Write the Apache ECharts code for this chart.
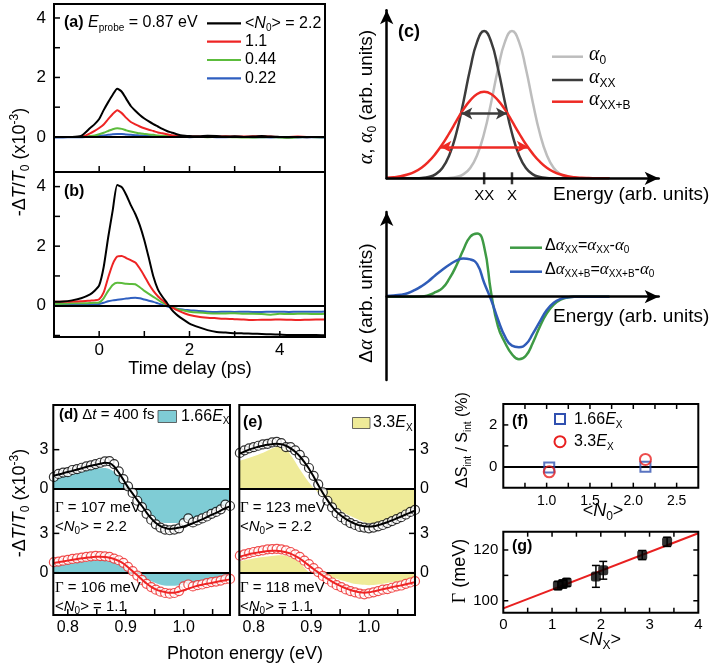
<!DOCTYPE html>
<html><head><meta charset="utf-8">
<script src="https://cdn.jsdelivr.net/npm/echarts@6/dist/echarts.min.js"></script>
<style>html,body{margin:0;padding:0;background:#fff}#c{width:716px;height:671px}</style>
</head><body><div id="c"></div>
<script>
// ---------- Panels (a),(b): time traces ----------
const timeDelay = [-1,-0.8,-0.6,-0.4,-0.2,-0.1,0,0.1,0.2,0.3,0.4,0.5,0.6,0.7,0.8,0.9,1.0,1.1,1.2,1.3,1.4,1.5,1.6,1.7,1.8,1.9,2.0,2.2,2.4,2.6,2.8,3.0,3.2,3.4,3.6,3.8,4.0,4.2,4.4,4.6,4.8,5.0];
const aN22  = [0,0,0,0.03,0.3,0.43,0.6,0.9,1.17,1.42,1.62,1.52,1.28,1.04,0.88,0.74,0.62,0.52,0.43,0.35,0.27,0.2,0.15,0.1,0.06,0.04,0.03,0.02,0.04,0.03,0.01,0.02,0,0.01,0.03,0.01,0,-0.01,0,-0.01,0,0];
const aN11  = [0,0,0,0,0.12,0.2,0.3,0.42,0.6,0.77,0.9,0.8,0.64,0.5,0.42,0.35,0.29,0.24,0.2,0.15,0.12,0.09,0.06,0.04,0.03,0.02,0.01,0.01,0,0.01,0.02,0.01,0.01,0.02,0.02,0.01,0,0,0.01,0,0,0];
const aN044 = [0,0,0,0,0.03,0.05,0.09,0.14,0.2,0.26,0.29,0.27,0.22,0.18,0.15,0.12,0.1,0.08,0.07,0.05,0.04,0.03,0.02,0.01,0.01,0,0,0,-0.01,0,0,-0.01,-0.02,-0.02,-0.01,0,-0.02,-0.03,-0.01,0,-0.01,0];
const aN022 = [-0.02,-0.02,-0.01,-0.01,0.01,0.02,0.03,0.05,0.07,0.09,0.1,0.1,0.08,0.07,0.06,0.05,0.04,0.03,0.02,0.02,0.01,0.01,0,0,0,0,-0.01,0,0,-0.01,-0.01,0,0,-0.01,-0.01,-0.02,-0.01,-0.01,-0.02,-0.01,-0.01,-0.02];
const bN22  = [0.13,0.14,0.18,0.25,0.38,0.5,0.68,1.3,2.3,3.2,4.05,3.98,3.72,3.38,3.08,2.7,2.2,1.6,0.98,0.55,0.3,0.1,-0.12,-0.28,-0.4,-0.5,-0.6,-0.72,-0.82,-0.88,-0.9,-0.92,-0.93,-0.94,-0.95,-0.96,-0.97,-0.98,-0.98,-0.98,-0.98,-0.99];
const bN11  = [0.13,0.13,0.14,0.15,0.17,0.18,0.22,0.45,0.95,1.4,1.65,1.67,1.6,1.53,1.45,1.25,1.0,0.73,0.5,0.32,0.18,0.05,-0.05,-0.13,-0.2,-0.26,-0.31,-0.37,-0.4,-0.42,-0.44,-0.45,-0.46,-0.48,-0.47,-0.47,-0.46,-0.47,-0.48,-0.47,-0.46,-0.46];
const bN044 = [0.07,0.07,0.08,0.08,0.09,0.1,0.11,0.25,0.5,0.7,0.77,0.76,0.74,0.73,0.72,0.62,0.5,0.4,0.3,0.2,0.1,0.03,-0.04,-0.1,-0.14,-0.17,-0.2,-0.23,-0.25,-0.26,-0.26,-0.25,-0.27,-0.27,-0.28,-0.3,-0.27,-0.28,-0.27,-0.27,-0.28,-0.27];
const bN022 = [0.07,0.06,0.05,0.05,0.05,0.05,0.06,0.1,0.15,0.18,0.2,0.22,0.24,0.26,0.27,0.25,0.21,0.17,0.13,0.08,0.03,-0.02,-0.06,-0.09,-0.12,-0.14,-0.15,-0.18,-0.2,-0.21,-0.2,-0.21,-0.2,-0.21,-0.21,-0.2,-0.2,-0.21,-0.2,-0.2,-0.2,-0.19];
const legendA = ['2.2','1.1','0.44','0.22'];
const tickTime = [0,1,2,3,4];
const tickA = [0,1,2,3,4];
const tickB = [-1,0,1,2,3,4];

// ---------- Panel (c): schematic ----------
const cEnergy  = [0,2.5,5,7.5,10,12.5,15,17.5,20,22.5,25,27.5,30,32.5,35,37.5,40,42.5,45,47.5,50,52.5,55,57.5,60,62.5,65,67.5,70,72.5,75,77.5,80];
const alpha0   = [0,0,0,0,0,0,0,0,0.05,0.2,0.74,2.25,5.9,13.3,25.8,43.3,62.7,78.3,84.3,78.3,62.7,43.3,25.8,13.3,5.9,2.25,0.74,0.2,0.05,0,0,0,0];
const alphaXX  = [0,0,0,0,0.05,0.2,0.74,2.25,5.9,13.3,25.8,43.3,62.7,78.3,84.3,78.3,62.7,43.3,25.8,13.3,5.9,2.25,0.74,0.2,0.05,0,0,0,0,0,0,0,0];
const alphaXXB = [0.3,0.6,1.2,2.2,3.7,6.1,9.5,14.0,19.5,25.9,32.7,39.3,44.6,48.3,49.5,48.3,44.6,39.3,32.7,25.9,19.5,14.0,9.5,6.1,3.7,2.2,1.2,0.6,0.3,0.15,0.07,0,0];
const dAlphaXX  = [0,0,0,0,0,0.1,1.5,4.5,8.5,18,31,46.7,60,63.2,50,4,-30,-46,-57.5,-62.5,-59,-46,-30,-16.7,-8,-3,-0.8,-0.1,0,0,0,0,0];
const dAlphaXXB = [0.7,1.2,2,3.5,6.5,10.5,15.5,21.5,27,32,36,38.2,37.3,32.5,14,-3,-23,-40,-49,-50.5,-47.5,-37,-25,-13.3,-6,-2.2,-0.6,0,0,0,0,0,0];
const cTickPos = [35,45];
const cTickLab = ['XX','X'];
const arrowXX  = [26.8, 43.2, 37.1];   // x from, x to, height
const arrowXXB = [19.3, 50.7, 18.0];

// ---------- Panels (d),(e): spectra ----------
const ePhoton = [0.776,0.784,0.792,0.800,0.808,0.816,0.824,0.832,0.840,0.848,0.856,0.864,0.872,0.880,0.888,0.896,0.904,0.912,0.920,0.928,0.936,0.944,0.952,0.960,0.968,0.976,0.984,0.992,1.000,1.008,1.016,1.024,1.032,1.040,1.048,1.056,1.064,1.072,1.080];
const dFitUp  = [1.02,1.1,1.2,1.3,1.38,1.48,1.58,1.68,1.77,1.85,1.93,2.0,1.97,1.72,1.25,0.7,0.12,-0.35,-0.85,-1.3,-1.8,-2.25,-2.6,-2.83,-2.97,-3.05,-3.02,-2.95,-2.87,-2.75,-2.62,-2.47,-2.32,-2.15,-1.98,-1.82,-1.65,-1.47,-1.33];
const dDatUp  = [0.92,1.15,1.25,1.28,1.45,1.52,1.62,1.72,1.8,1.9,2.0,2.1,2.12,1.9,1.35,0.75,0.2,-0.3,-0.9,-1.38,-1.9,-2.35,-2.7,-2.95,-3.1,-3.15,-3.1,-3.0,-2.6,-2.25,-2.55,-2.4,-2.25,-2.1,-1.9,-1.75,-1.55,-1.2,-1.3];
const dFitLo  = [0.74,0.8,0.86,0.92,0.98,1.04,1.1,1.14,1.18,1.21,1.22,1.2,1.14,1.04,0.9,0.7,0.42,0.1,-0.2,-0.52,-0.83,-1.08,-1.27,-1.4,-1.48,-1.53,-1.53,-1.45,-1.34,-1.22,-1.1,-1.0,-0.92,-0.85,-0.78,-0.71,-0.64,-0.57,-0.51];
const dDatLo  = [0.8,0.85,0.92,0.98,1.05,1.1,1.15,1.2,1.25,1.28,1.27,1.25,1.2,1.08,0.95,0.75,0.45,0.12,-0.22,-0.55,-0.85,-1.1,-1.3,-1.45,-1.55,-1.6,-1.55,-1.4,-1.05,-0.9,-1.05,-0.95,-0.9,-0.8,-0.72,-0.68,-0.6,-0.5,-0.48];
const eFitUp  = [2.7,2.85,3.0,3.12,3.22,3.3,3.37,3.42,3.45,3.42,3.3,3.1,2.85,2.5,2.05,1.55,0.95,0.3,-0.3,-0.85,-1.35,-1.75,-2.05,-2.3,-2.5,-2.66,-2.78,-2.85,-2.87,-2.84,-2.76,-2.66,-2.54,-2.4,-2.25,-2.1,-1.95,-1.8,-1.66];
const eDatUp  = [2.75,2.95,3.1,3.2,3.3,3.4,3.45,3.55,3.6,3.5,3.2,3.2,2.95,2.6,2.15,1.6,1.0,0.35,-0.25,-0.9,-1.4,-1.85,-2.15,-2.4,-2.6,-2.75,-2.9,-2.95,-3.0,-2.95,-2.85,-2.75,-2.6,-2.45,-2.3,-2.15,-1.95,-1.75,-1.6];
const eFitLo  = [1.22,1.32,1.41,1.48,1.55,1.6,1.65,1.68,1.68,1.64,1.56,1.45,1.28,1.08,0.82,0.55,0.28,0.02,-0.22,-0.46,-0.68,-0.88,-1.05,-1.2,-1.32,-1.42,-1.5,-1.53,-1.5,-1.43,-1.35,-1.27,-1.19,-1.11,-1.04,-0.97,-0.88,-0.8,-0.72];
const eDatLo  = [1.3,1.4,1.5,1.58,1.65,1.7,1.78,1.8,1.82,1.78,1.7,1.58,1.4,1.2,0.92,0.65,0.35,0.05,-0.25,-0.5,-0.75,-0.95,-1.1,-1.28,-1.4,-1.5,-1.6,-1.65,-1.58,-1.5,-1.4,-1.3,-1.25,-1.15,-1.05,-0.98,-0.85,-0.75,-0.65];
const eFill   = [0.775,0.79,0.805,0.82,0.835,0.85,0.865,0.88,0.895,0.91,0.925,0.94,0.955,0.97,0.985,1.0,1.015,1.03,1.045,1.06,1.08];
const dFillUp = [0.8,0.98,1.12,1.27,1.42,1.56,1.6,1.3,0.65,0.12,-0.8,-1.7,-2.4,-2.6,-2.6,-2.48,-2.25,-1.95,-1.7,-1.42,-1.05];
const dFillLo = [0.5,0.6,0.7,0.8,0.88,0.95,0.95,0.78,0.5,0.1,-0.3,-0.58,-0.85,-1.0,-1.0,-0.93,-0.78,-0.65,-0.55,-0.45,-0.33];
const eFillUp = [2.15,2.35,2.58,2.85,3.15,3.3,2.55,1.5,0.55,-0.2,-0.75,-1.27,-1.75,-2.1,-2.4,-2.6,-2.6,-2.48,-2.2,-1.95,-1.62];
const eFillLo = [0.85,1.0,1.13,1.22,1.3,1.33,1.15,0.75,0.08,-0.1,-0.25,-0.42,-0.62,-0.8,-0.9,-0.95,-0.9,-0.8,-0.7,-0.6,-0.5];
const OFF = 6.39; // vertical offset of the <N0>=2.2 traces
const tickE = [0.8,0.85,0.9,0.95,1.0,1.05];
const labE  = [0.8,0.9,1.0];

// ---------- Panel (f) ----------
const fN0   = [1.03, 2.14];
const fS166 = [-0.03, 0.0];
const fS33  = [-0.24, 0.35];
const tickFx = [0.75,1,1.25,1.5,1.75,2,2.25,2.5];
const tickFy = [0,1,2];

// ---------- Panel (g) ----------
const gNx    = [1.12,1.22,1.3,1.9,2.05,2.85,3.36];
const gGamma = [106.0,106.6,107.2,109.6,112.0,118.0,123.2];
const gErr   = [1.6,1.5,1.5,4.3,3.5,1.8,1.8];
const gFitX  = [0,4];
const gFitY  = [97.0,126.6];
const tickGx = [0.5,1,1.5,2,2.5,3,3.5];
const tickGy = [100,110,120];

// ---------- styling ----------
const F = "'Liberation Sans', Arial, sans-serif";
const SF = "'Liberation Serif', 'Times New Roman', serif";
const BLACK='#000', RED='#ee2424', GREEN='#5cbc3c', BLUE='#2f5fc0';
const zip = (xs, ys, off) => xs.map((x,i)=>[x, ys[i] + (off||0)]);

function rich(fs){
  const sub = Math.round(fs*0.64);
  return {
    i:{fontStyle:'italic', fontSize:fs, fontFamily:F, fill:'#000'},
    b:{fontWeight:'bold', fontSize:fs, fontFamily:F, fill:'#000'},
    s:{fontSize:sub, fontFamily:F, padding:[Math.round(fs*0.62),0,0,0], fill:'#000'},
    p:{fontSize:sub, fontFamily:F, padding:[0,0,Math.round(fs*0.62),0], fill:'#000'},
    a:{fontStyle:'italic', fontSize:fs+1, fontFamily:SF, fill:'#000'},
    g:{fontSize:fs, fontFamily:SF, fill:'#000'}
  };
}
function T(x,y,text,fs,opt){
  opt = opt||{};
  return {type:'text', x:x, y:y, rotation:opt.rot||0, z:100, silent:true,
    style:{text:text, fontSize:fs, fontFamily:F, fill:'#000', align:opt.align||'left',
      verticalAlign:'middle', rich:rich(fs)}};
}
function L(x1,y1,x2,y2,color,w){
  return {type:'line', z:100, silent:true, shape:{x1,y1,x2,y2}, style:{stroke:color, lineWidth:w||2}};
}
const NOLINE = () => ({show:false, onZero:false});
function frameGrid(left, top, width, height){
  return {left, top, width, height, show:true, borderColor:'#000', borderWidth:2, z:10};
}
function zeroML(vals){
  return {silent:true, symbol:['none','none'], label:{show:false}, animation:false,
    lineStyle:{color:'#000', width:2, type:'solid'},
    data: vals.map(v=>({yAxis:v})), z:3};
}
function lineS(xi, yi, data, color, width, extra){
  return Object.assign({type:'line', xAxisIndex:xi, yAxisIndex:yi, data:data, showSymbol:false, symbol:'none',
    lineStyle:{color:color, width:width}, itemStyle:{color:color}, silent:true, z:4, animation:false}, extra||{});
}
function circS(xi, yi, data, color){
  return {type:'scatter', xAxisIndex:xi, yAxisIndex:yi, data:data, symbol:'circle', symbolSize:9,
    itemStyle:{color:'#fff', borderColor:color, borderWidth:1.2}, silent:true, z:4, animation:false};
}
function fillS(xi, yi, data, color, origin, extra){
  return Object.assign({type:'line', xAxisIndex:xi, yAxisIndex:yi, data:data, showSymbol:false, symbol:'none', smooth:0.3,
    lineStyle:{width:0, opacity:0}, areaStyle:{color:color, opacity:1, origin:origin}, silent:true, z:1, animation:false}, extra||{});
}
const atX = (xv, vals) => vals.map(v => [xv, v]);
const atY = (yv, vals) => vals.map(v => [v, yv]);
const lbl = (fs, extra) => Object.assign({show:true, color:'#000', fontFamily:F, fontSize:fs}, extra||{});
const NOTICK = {show:false};
const cFmt = v => { const i = cTickPos.indexOf(v); return i >= 0 ? cTickLab[i] : ''; };

const xAxis = [
  {type:'value', gridIndex:0, min:-1, max:5, interval:1, axisLine:NOLINE(), splitLine:{show:false}, axisTick:NOTICK, axisLabel:{show:false}},
  {type:'value', gridIndex:1, min:-1, max:5, interval:1, axisLine:NOLINE(), splitLine:{show:false}, axisTick:NOTICK,
   axisLabel:lbl(17,{margin:5, formatter:v => (v===0||v===2||v===4) ? String(v) : ''})},
  {type:'value', gridIndex:2, min:0, max:97.7, splitLine:{show:false},
   axisLine:{show:true, onZero:false, symbol:['none','arrow'], symbolSize:[10,14], lineStyle:{color:'#000', width:2.5}},
   axisTick:NOTICK, axisLabel:lbl(15,{margin:10, customValues:cTickPos, formatter:cFmt}), z:6},
  {type:'value', gridIndex:3, min:0, max:97.7, splitLine:{show:false},
   axisLine:{show:true, onZero:true, symbol:['none','arrow'], symbolSize:[10,14], lineStyle:{color:'#000', width:2.5}},
   axisTick:NOTICK, axisLabel:{show:false}, z:6},
  {type:'value', gridIndex:4, min:0.775, max:1.08, axisLine:NOLINE(), splitLine:{show:false}, axisTick:NOTICK,
   axisLabel:lbl(16,{margin:5, customValues:labE, formatter:v => Number(v).toFixed(1)})},
  {type:'value', gridIndex:5, min:0.775, max:1.08, axisLine:NOLINE(), splitLine:{show:false}, axisTick:NOTICK,
   axisLabel:lbl(16,{margin:5, customValues:labE, formatter:v => Number(v).toFixed(1)})},
  {type:'value', gridIndex:6, min:0.5, max:2.75, interval:0.25, axisLine:NOLINE(), splitLine:{show:false}, axisTick:NOTICK,
   axisLabel:lbl(14,{margin:6, formatter:v => ([1,1.5,2,2.5].indexOf(v) >= 0 ? Number(v).toFixed(1) : '')})},
  {type:'value', gridIndex:7, min:0, max:4, interval:0.5, axisLine:NOLINE(), splitLine:{show:false}, axisTick:NOTICK,
   axisLabel:lbl(15,{margin:5, formatter:v => (Number.isInteger(v) ? String(v) : '')})}
];

const dTicks = [0, 3, OFF, OFF+3];
const dFmt = v => (Math.abs(v) < 0.01 || Math.abs(v-OFF) < 0.01) ? '0' : '3';
const yAxis = [
  {type:'value', gridIndex:0, position:'left', min:-1.18, max:4.47, axisLine:NOLINE(), splitLine:{show:false}, axisTick:NOTICK,
   axisLabel:lbl(17,{margin:8, customValues:[0,2,4]})},
  {type:'value', gridIndex:1, position:'left', min:-1.05, max:4.49, axisLine:NOLINE(), splitLine:{show:false}, axisTick:NOTICK,
   axisLabel:lbl(17,{margin:8, customValues:[0,2,4]})},
  {type:'value', gridIndex:2, position:'left', min:0, max:96.2, splitLine:{show:false},
   axisLine:{show:true, onZero:false, symbol:['none','arrow'], symbolSize:[10,14], lineStyle:{color:'#000', width:2.5}},
   axisTick:NOTICK, axisLabel:{show:false}, z:6},
  {type:'value', gridIndex:3, position:'left', min:-83.3, max:84.7, splitLine:{show:false},
   axisLine:{show:true, onZero:false, symbol:['none','arrow'], symbolSize:[10,14], lineStyle:{color:'#000', width:2.5}},
   axisTick:NOTICK, axisLabel:{show:false}, z:6},
  {type:'value', gridIndex:4, position:'left', min:-3.23, max:12.8, axisLine:NOLINE(), splitLine:{show:false}, axisTick:NOTICK,
   axisLabel:lbl(16,{margin:5, customValues:dTicks, formatter:dFmt})},
  {type:'value', gridIndex:5, position:'right', min:-3.23, max:12.8, axisLine:NOLINE(), splitLine:{show:false}, axisTick:NOTICK,
   axisLabel:{show:false}},
  {type:'value', gridIndex:6, position:'left', min:-1, max:3, interval:1, axisLine:NOLINE(), splitLine:{show:false}, axisTick:NOTICK,
   axisLabel:lbl(15,{margin:6, formatter:v => (v===0||v===2) ? String(v) : ''})},
  {type:'value', gridIndex:7, position:'left', min:95.3, max:127.2, axisLine:NOLINE(), splitLine:{show:false}, axisTick:NOTICK,
   axisLabel:lbl(15,{margin:5, customValues:[100,120]})}
];

const grid = [
  frameGrid(54, 4, 271, 168),
  frameGrid(54, 172, 271, 165),
  {left:386.7, top:10.3, width:272, height:168, show:false},
  {left:386.7, top:212, width:272, height:168, show:false},
  frameGrid(53.3, 405, 176.7, 210),
  frameGrid(239.3, 405, 175.7, 210),
  frameGrid(503.3, 404, 195, 83.7),
  frameGrid(503.3, 531.7, 195, 81)
];

const CYAN = '#7fccd5', YELLOW = '#efeb98';
const C_LIGHT = '#bdbdbd', C_DARK = '#3c3c3c', C_RED = '#ee2a24', C_GREEN = '#3e9a44', C_BLUE = '#2f5cb8';

const arrowML = (arr, color) => ({silent:true, symbol:['arrow','arrow'], symbolSize:[9,11], label:{show:false},
  lineStyle:{color:color, width:2.5, type:'solid'}, z:6, animation:false,
  data:[[{coord:[arr[0], arr[2]]},{coord:[arr[1], arr[2]]}]]});

const series = [
  // (a)
  lineS(0,0, zip(timeDelay,aN022), BLUE, 2, {smooth:0.2}),
  lineS(0,0, zip(timeDelay,aN044), GREEN, 2, {smooth:0.2}),
  lineS(0,0, zip(timeDelay,aN11), RED, 2, {smooth:0.2}),
  lineS(0,0, zip(timeDelay,aN22), BLACK, 2, {smooth:0.2, markLine:Object.assign(zeroML([0]),{z:5})}),
  // (b)
  lineS(1,1, zip(timeDelay,bN022), BLUE, 2, {smooth:0.2}),
  lineS(1,1, zip(timeDelay,bN044), GREEN, 2, {smooth:0.2}),
  lineS(1,1, zip(timeDelay,bN11), RED, 2, {smooth:0.2}),
  lineS(1,1, zip(timeDelay,bN22), BLACK, 2, {smooth:0.2, markLine:Object.assign(zeroML([0]),{z:5})}),
  // (c) top
  lineS(2,2, zip(cEnergy,alpha0), C_LIGHT, 2.5, {smooth:true, z:2}),
  lineS(2,2, zip(cEnergy,alphaXX), C_DARK, 2.5, {smooth:true, z:3, markLine:arrowML(arrowXX, C_DARK)}),
  lineS(2,2, zip(cEnergy,alphaXXB), C_RED, 2.5, {smooth:true, z:4, markLine:arrowML(arrowXXB, C_RED)}),
  {type:'scatter', xAxisIndex:2, yAxisIndex:2, data:cTickPos.map(v=>[v,0]), symbol:'rect', symbolSize:[2.5,12],
   itemStyle:{color:'#000'}, clip:false, silent:true, z:7, animation:false},
  // (c) bottom
  lineS(3,3, zip(cEnergy,dAlphaXX), C_GREEN, 2.5, {smooth:true}),
  lineS(3,3, zip(cEnergy,dAlphaXXB), C_BLUE, 2.5, {smooth:true}),
  // (d)
  fillS(4,4, zip(eFill,dFillUp,OFF), CYAN, OFF),
  fillS(4,4, zip(eFill,dFillLo), CYAN, 0, {markLine:zeroML([0, OFF])}),
  circS(4,4, zip(ePhoton,dDatUp,OFF), BLACK),
  circS(4,4, zip(ePhoton,dDatLo), RED),
  lineS(4,4, zip(ePhoton,dFitUp,OFF), BLACK, 2, {smooth:0.3, z:5}),
  lineS(4,4, zip(ePhoton,dFitLo), RED, 2, {smooth:0.3, z:5}),
  // (e)
  fillS(5,5, zip(eFill,eFillUp,OFF), YELLOW, OFF),
  fillS(5,5, zip(eFill,eFillLo), YELLOW, 0, {markLine:zeroML([0, OFF])}),
  circS(5,5, zip(ePhoton,eDatUp,OFF), BLACK),
  circS(5,5, zip(ePhoton,eDatLo), RED),
  lineS(5,5, zip(ePhoton,eFitUp,OFF), BLACK, 2, {smooth:0.3, z:5}),
  lineS(5,5, zip(ePhoton,eFitLo), RED, 2, {smooth:0.3, z:5}),
  // (f)
  {type:'scatter', xAxisIndex:6, yAxisIndex:6, data:zip(fN0,fS166), symbol:'rect', symbolSize:10,
   itemStyle:{color:'rgba(255,255,255,0)', borderColor:'#3050b0', borderWidth:2}, silent:true, z:4, animation:false,
   markLine:zeroML([0])},
  {type:'scatter', xAxisIndex:6, yAxisIndex:6, data:zip(fN0,fS33), symbol:'circle', symbolSize:11,
   itemStyle:{color:'rgba(255,255,255,0)', borderColor:'#e82020', borderWidth:2}, silent:true, z:5, animation:false},
  // (g)
  lineS(7,7, zip(gFitX,gFitY), '#e82020', 2, {z:3}),
  {type:'custom', xAxisIndex:7, yAxisIndex:7, data:gNx.map((x,i)=>[x, gGamma[i], gErr[i]]), silent:true, z:4, animation:false,
   renderItem:function(params, api){
     const x = api.value(0), y = api.value(1), e = api.value(2);
     const t = api.coord([x, y+e]), b = api.coord([x, y-e]);
     const st = {stroke:'#000', lineWidth:1.5};
     return {type:'group', children:[
       {type:'line', shape:{x1:t[0], y1:t[1], x2:b[0], y2:b[1]}, style:st},
       {type:'line', shape:{x1:t[0]-4, y1:t[1], x2:t[0]+4, y2:t[1]}, style:st},
       {type:'line', shape:{x1:b[0]-4, y1:b[1], x2:b[0]+4, y2:b[1]}, style:st}
     ]};
   }},
  {type:'scatter', xAxisIndex:7, yAxisIndex:7, data:zip(gNx,gGamma), symbol:'roundRect', symbolSize:10,
   itemStyle:{color:'#000'}, silent:true, z:5, animation:false}
];

const legendColors = [BLACK, RED, GREEN, BLUE];
const legendYs = [23.3, 41.7, 60, 78.3];
const elements = [];
// (a)/(b)
elements.push(T(64, 23, '{b|(a)} {i|E}{s|probe} = 0.87 eV', 16));
legendA.forEach((t,i) => {
  elements.push(L(207, legendYs[i], 241, legendYs[i], legendColors[i], 2.2));
  elements.push(T(245, legendYs[i], i===0 ? '<{i|N}{s|0}> = ' + t : t, 16));
});
elements.push(T(64, 192, '{b|(b)}', 16));
elements.push(T(20, 162, '-Δ{i|T}/{i|T}{s|0} (x10{p|-3})', 18, {rot:Math.PI/2, align:'center'}));
elements.push(T(190, 369, 'Time delay (ps)', 18, {align:'center'}));
// (c)
elements.push(T(398, 32, '{b|(c)}', 18));
elements.push(T(367, 97, '{a|α}, {a|α}{s|0} (arb. units)', 19, {rot:Math.PI/2, align:'center'}));
[[C_LIGHT,'{a|α}{s|0}',56.7],[C_DARK,'{a|α}{s|XX}',80],[C_RED,'{a|α}{s|XX+B}',101.7]].forEach(r => {
  elements.push(L(552, r[2], 583, r[2], r[0], 2.5));
  elements.push(T(589, r[2]-2, r[1], 19));
});
elements.push(T(553, 195, 'Energy (arb. units)', 19));
elements.push(T(367, 303, 'Δ{a|α} (arb. units)', 19, {rot:Math.PI/2, align:'center'}));
[[C_GREEN,'Δ{a|α}{s|XX}={a|α}{s|XX}-{a|α}{s|0}',247.7],[C_BLUE,'Δ{a|α}{s|XX+B}={a|α}{s|XX+B}-{a|α}{s|0}',271.7]].forEach(r => {
  elements.push(L(510, r[2], 542, r[2], r[0], 2.5));
  elements.push(T(545, r[2]-2, r[1], 16));
});
elements.push(T(553, 317, 'Energy (arb. units)', 19));
// (d),(e)
elements.push(T(59, 415, '{b|(d)} Δ{i|t} = 400 fs', 15));
elements.push({type:'rect', z:100, silent:true, shape:{x:158, y:410.5, width:18.5, height:12}, style:{fill:CYAN, stroke:'#444', lineWidth:0.8}});
elements.push(T(181, 416.5, '1.66{i|E}{s|X}', 16));
elements.push(T(243, 423, '{b|(e)}', 16));
elements.push({type:'rect', z:100, silent:true, shape:{x:352.5, y:417.5, width:17.5, height:11}, style:{fill:YELLOW, stroke:'#444', lineWidth:0.8}});
elements.push(T(373, 423, '3.3{i|E}{s|X}', 16));
[[55,'107','2.2'],[240,'123','2.2']].forEach(r => {
  elements.push(T(r[0], 508, '{g|Γ} = ' + r[1] + ' meV', 15));
  elements.push(T(r[0], 527, '<{i|N}{s|0}> = ' + r[2], 15));
});
[[55,'106','1.1'],[240,'118','1.1']].forEach(r => {
  elements.push(T(r[0], 588, '{g|Γ} = ' + r[1] + ' meV', 15));
  elements.push(T(r[0], 607, '<{i|N}{s|0}> = ' + r[2], 15));
});
elements.push(T(20, 503, '-Δ{i|T}/{i|T}{s|0} (x10{p|-3})', 18, {rot:Math.PI/2, align:'center'}));
elements.push(T(245, 654, 'Photon energy (eV)', 18, {align:'center'}));
// (f)
elements.push(T(512, 421.7, '{b|(f)}', 16));
elements.push({type:'rect', z:100, silent:true, shape:{x:555, y:414, width:10, height:10}, style:{fill:'none', stroke:'#3050b0', lineWidth:2}});
elements.push(T(574, 420, '1.66{i|E}{s|X}', 16));
elements.push({type:'circle', z:100, silent:true, shape:{cx:560, cy:441.7, r:5.5}, style:{fill:'none', stroke:'#e82020', lineWidth:2}});
elements.push(T(574, 442, '3.3{i|E}{s|X}', 16));
elements.push(T(463, 440, 'ΔS{s|int} / S{s|int} (%)', 16, {rot:Math.PI/2, align:'center'}));
elements.push(T(603, 511, '<{i|N}{s|0}>', 18, {align:'center'}));
// (g)
elements.push(T(512, 547, '{b|(g)}', 16));
elements.push(T(460, 571, '{g|Γ} (meV)', 18, {rot:Math.PI/2, align:'center'}));
elements.push(T(600, 640, '<{i|N}{s|X}>', 18, {align:'center'}));

const chart = echarts.init(document.getElementById('c'), null, {renderer:'canvas'});
try {
  chart.setOption({
    animation:false,
    backgroundColor:'#fff',
    textStyle:{fontFamily:F},
    grid:grid, xAxis:xAxis, yAxis:yAxis, series:series,
    graphic:{elements:elements}
  });
} catch (e) { /* continue: ticks are added below */ }

// Tick marks and the right-hand labels of (e), placed through the chart's own axis scales.
function toPx(gi, p){
  let c = null;
  try { c = chart.convertToPixel({xAxisIndex:gi, yAxisIndex:gi}, p); } catch (e) { c = null; }
  if (!c || !isFinite(c[0]) || !isFinite(c[1])) {
    try { c = chart.convertToPixel({gridIndex:gi}, p); } catch (e) { c = null; }
  }
  return (c && isFinite(c[0]) && isFinite(c[1])) ? c : null;
}
const extra = [];
const addTicks = (gi, pts, dx, dy) => pts.forEach(p => {
  const c = toPx(gi, p);
  if (c) extra.push(L(c[0], c[1], c[0]+dx, c[1]+dy, '#000', 1.5));
});
addTicks(0, atX(-1, tickA), 6, 0);        addTicks(0, atY(-1.18, tickTime), 0, -6);
addTicks(1, atX(-1, tickB), 6, 0);        addTicks(1, atY(-1.05, tickTime), 0, -6);
addTicks(4, atX(0.775, dTicks), 6, 0);    addTicks(4, atY(-3.23, tickE), 0, -6);
addTicks(5, atX(1.08, dTicks), -6, 0);    addTicks(5, atY(-3.23, tickE), 0, -6);
addTicks(6, atY(-1, tickFx), 0, -5);      addTicks(6, atY(3, tickFx), 0, 5);   addTicks(6, atX(0.5, tickFy), 5, 0);
addTicks(7, atY(95.3, tickGx), 0, -5);    addTicks(7, atY(127.2, tickGx), 0, 5);
addTicks(7, atX(0, tickGy), 5, 0);        addTicks(7, atX(4, tickGy), -5, 0);
atX(1.08, dTicks).forEach(p => {
  const c = toPx(5, p);
  if (c) extra.push(T(c[0]+5, c[1], dFmt(p[1]), 16));
});
if (extra.length) {
  try { chart.setOption({graphic:{elements:elements.concat(extra)}}); } catch (e) { /* keep what is drawn */ }
}
</script></body></html>
